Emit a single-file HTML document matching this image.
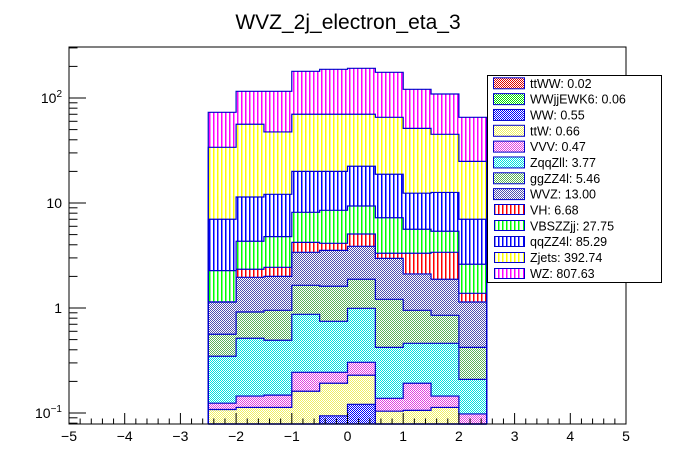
<!DOCTYPE html>
<html><head><meta charset="utf-8"><style>
body{margin:0;background:#fff;}
#wrap{position:relative;width:696px;height:472px;overflow:hidden;}
#c{position:absolute;left:0;top:0;z-index:2;}
#stripes{position:absolute;left:0;top:0;width:696px;height:472px;z-index:1;}
#legsw{position:absolute;left:0;top:0;width:696px;height:472px;z-index:3;}
.sb{position:absolute;box-sizing:border-box;}
svg{display:block;font-family:"Liberation Sans",Arial,sans-serif;}
</style></head><body>
<div id="wrap">
<div id="stripes"></div>
<svg id="c" width="696" height="472" viewBox="0 0 696 472">
<defs id="defs">
<pattern id="cWVZ" x="0" y="0" width="2" height="2" patternUnits="userSpaceOnUse"><rect width="2" height="2" fill="#fff"/><rect width="1" height="1" fill="#5050b0"/><rect x="1" y="1" width="1" height="1" fill="#5050b0"/></pattern>
<pattern id="cgg" x="0" y="0" width="2" height="2" patternUnits="userSpaceOnUse"><rect width="2" height="2" fill="#fff"/><rect width="1" height="1" fill="#5ab05a"/><rect x="1" y="1" width="1" height="1" fill="#5ab05a"/></pattern>
<pattern id="cZqq" x="0" y="0" width="2" height="2" patternUnits="userSpaceOnUse"><rect width="2" height="2" fill="#fff"/><rect width="1" height="1" fill="#00e0e0"/><rect x="1" y="1" width="1" height="1" fill="#00e0e0"/></pattern>
<pattern id="cVVV" x="0" y="0" width="2" height="2" patternUnits="userSpaceOnUse"><rect width="2" height="2" fill="#fff"/><rect width="1" height="1" fill="#e040e0"/><rect x="1" y="1" width="1" height="1" fill="#e040e0"/></pattern>
<pattern id="cttW" x="0" y="0" width="2" height="2" patternUnits="userSpaceOnUse"><rect width="2" height="2" fill="#fff"/><rect width="1" height="1" fill="#f0f060"/><rect x="1" y="1" width="1" height="1" fill="#f0f060"/></pattern>
<pattern id="cWW" x="0" y="0" width="2" height="2" patternUnits="userSpaceOnUse"><rect width="2" height="2" fill="#fff"/><rect width="1" height="1" fill="#0000ff"/><rect x="1" y="1" width="1" height="1" fill="#0000ff"/></pattern>
<pattern id="cWWjj" x="0" y="0" width="2" height="2" patternUnits="userSpaceOnUse"><rect width="2" height="2" fill="#fff"/><rect width="1" height="1" fill="#00e000"/><rect x="1" y="1" width="1" height="1" fill="#00e000"/></pattern>
<pattern id="cttWW" x="0" y="0" width="2" height="2" patternUnits="userSpaceOnUse"><rect width="2" height="2" fill="#fff"/><rect width="1" height="1" fill="#e00000"/><rect x="1" y="1" width="1" height="1" fill="#e00000"/></pattern>
</defs>
<text x="348" y="29" text-anchor="middle" font-size="21" fill="#000">WVZ_2j_electron_eta_3</text>
<g id="marks"></g>
<g id="axes"></g>
<g id="legend"></g>
</svg>
<div id="legsw"></div>
</div>
<script>
const binEdgesLow = [-2.5,-2,-1.5,-1,-0.5,0,0.5,1,1.5,2];
const binWidth = 0.5;
const processNames = ["ttWW","WWjjEWK6","WW","ttW","VVV","ZqqZll","ggZZ4l","WVZ","VH","VBSZZjj","qqZZ4l","Zjets","WZ"];
const legendLabels = ["ttWW: 0.02","WWjjEWK6: 0.06","WW: 0.55","ttW: 0.66","VVV: 0.47","ZqqZll: 3.77","ggZZ4l: 5.46","WVZ: 13.00","VH: 6.68","VBSZZjj: 27.75","qqZZ4l: 85.29","Zjets: 392.74","WZ: 807.63"];
const ttWW = [0.005,0.005,0.005,0.005,0.005,0.005,0.005,0.005,0.005,0.005];
const WWjjEWK6 = [0.005,0.005,0.005,0.005,0.005,0.005,0.005,0.005,0.005,0.005];
const WW = [0.03,0.03,0.03,0.03,0.084,0.111,0.03,0.03,0.03,0.02];
const ttW = [0.068,0.073,0.073,0.121,0.098,0.108,0.064,0.066,0.073,0.02];
const VVV = [0.016,0.032,0.035,0.083,0.052,0.075,0.034,0.086,0.032,0.048];
const ZqqZll = [0.223,0.370,0.345,0.627,0.503,0.689,0.284,0.269,0.316,0.111];
const ggZZ4l = [0.215,0.401,0.458,0.774,0.863,0.887,0.788,0.490,0.391,0.213];
const WVZ = [0.578,1.044,1.049,1.745,1.93,1.99,1.76,1.159,1.028,0.718];
const VH = [0.0,0.38,0.44,0.83,0.59,1.20,0.35,1.21,1.51,0.24];
const VBSZZjj = [1.13,1.98,2.34,3.93,4.39,4.29,3.92,2.30,1.99,1.23];
const qqZZ4l = [4.73,7.08,7.32,11.85,11.48,13.04,11.56,6.78,7.22,4.39];
const Zjets = [26.9,44.8,35.4,50.0,50.0,47.6,46.7,39.0,32.5,17.9];
const WZ = [39.2,59.6,68.3,109.6,117.6,121.8,110.2,69.6,64.1,40.6];
const xTicks = [-5,-4,-3,-2,-1,0,1,2,3,4,5];
const yDecades = [0.1,1,10,100];
const yDecadeLabels = ["10^-1","1","10","10^2"];

const series = [ttWW,WWjjEWK6,WW,ttW,VVV,ZqqZll,ggZZ4l,WVZ,VH,VBSZZjj,qqZZ4l,Zjets,WZ];
const fills = ["url(#cttWW)","url(#cWWjj)","url(#cWW)","url(#cttW)","url(#cVVV)","url(#cZqq)","url(#cgg)","url(#cWVZ)","s:rgb(255,0,0)","s:rgb(0,255,0)","s:rgb(0,0,255)","s:rgb(255,255,0)","s:rgb(255,0,255)"];
const outl = "#0000cc";

const X0=69, X1=626, Y0=424, Y1=47;
const xMin=-5, xMax=5;
const yRef=308, pxPerDec=105;
const yMin=Math.pow(10,(yRef-Y0)/pxPerDec);
function sx(v){return X0+(v-xMin)/(xMax-xMin)*(X1-X0);}
function sy(v){ if(v<=yMin) return Y0; return Math.min(Y0,Math.max(Y1,yRef-Math.log10(v)*pxPerDec)); }
const NS='http://www.w3.org/2000/svg';
function mk(tag,attrs,parent){const e=document.createElementNS(NS,tag);for(const k in attrs)e.setAttribute(k,attrs[k]);parent.appendChild(e);return e;}
const stripeLayer=document.getElementById('stripes');
const legSw=document.getElementById('legsw');

function stripeDiv(col,host,x0,x1,yT,yB,name){
  const d=document.createElement('div');
  d.className='sb';
  
  
  const L=Math.round(x0), R=Math.round(x1);
  d.style.left=L+'px'; d.style.top=yT+'px';
  d.style.width=(R-L)+'px'; d.style.height=(yB-yT)+'px';
  d.style.backgroundColor='#fff';
  d.style.backgroundImage='repeating-linear-gradient(90deg, #fff 0px, #fff 1px, '+col+' 1px, '+col+' 2.5px, #fff 2.5px, #fff 4px)';
  d.style.backgroundPosition=(-(L%4))+'px 0px';
  host.appendChild(d);
  return d;
}
function fillBox(fill,parent,host,x0,x1,yT,yB,name){
  if(yB-yT<=0) return;
  if(fill.startsWith('s:')) stripeDiv(fill.slice(2),host,x0,x1,yT,yB,name);
  else mk('rect',{x:x0,y:yT,width:x1-x0,height:yB-yT,fill:fill},parent);
}

const marks=document.getElementById('marks');
const cum=[]; let run=binEdgesLow.map(()=>0);
series.forEach(s=>{run=run.map((r,i)=>r+s[i]);cum.push(run.slice());});
for(let k=0;k<series.length;k++){
  const tops=cum[k];
  const g=mk('g',{},marks);
  
  
  binEdgesLow.forEach((lo,i)=>{
    const yT=sy(tops[i]);
    const yB=k===0?Y0:sy(cum[k-1][i]);
    fillBox(fills[k],g,stripeLayer,sx(lo),sx(lo+binWidth),yT,yB,'bar-'+processNames[k].toLowerCase());
  });
}
for(let k=series.length-1;k>=0;k--){
  const tops=cum[k];
  const xa=sx(binEdgesLow[0]), xb=sx(binEdgesLow[binEdgesLow.length-1]+binWidth);
  let d='M'+xa+','+Y0;
  binEdgesLow.forEach((lo,i)=>{const y=sy(tops[i]);d+=' L'+sx(lo)+','+y+' L'+sx(lo+binWidth)+','+y;});
  d+=' L'+xb+','+Y0;
  const p=mk('path',{d:d,fill:'none',stroke:outl,'stroke-width':1.2},marks);
  
  
}

const axes=document.getElementById('axes');
const frame=mk('rect',{x:X0,y:Y1,width:X1-X0,height:Y0-Y1,fill:'none',stroke:'#000','stroke-width':1},axes);


for(let v=xMin; v<=xMax+1e-9; v+=0.2){
  const major=Math.abs(v-Math.round(v))<1e-6;
  const x=sx(v);
  mk('line',{x1:x,y1:Y0,x2:x,y2:Y0-(major?11:5.5),stroke:'#000','stroke-width':1},axes);
}
xTicks.forEach(v=>{
  const t=mk('text',{x:sx(v),y:441,'text-anchor':'middle','font-size':14,fill:'#000'},axes);
  t.textContent=(v<0?'\u2212':'')+Math.abs(v);
  
  
});
for(let dec=-2; dec<=2; dec++){
  for(let m=1;m<=9;m++){
    const v=m*Math.pow(10,dec);
    if(v<yMin) continue;
    const y=yRef-Math.log10(v)*pxPerDec;
    if(y<Y1) continue;
    mk('line',{x1:X0,y1:y,x2:X0+(m===1?17:8.5),y2:y,stroke:'#000','stroke-width':1},axes);
  }
}
yDecades.forEach((v,i)=>{
  const y=sy(v);
  const lab=yDecadeLabels[i];
  const t=mk('text',{x:62,y:y+5,'text-anchor':'end','font-size':14,fill:'#000'},axes);
  if(lab.indexOf('^')>=0){
    const parts=lab.split('^');
    const a=mk('tspan',{},t); a.textContent=parts[0];
    const b=mk('tspan',{dy:-6,'font-size':10},t); b.textContent=parts[1].replace('-','\u2212');
  } else t.textContent=lab;
  
  
});

const leg=document.getElementById('legend');
const box=mk('rect',{x:487.5,y:75.5,width:174,height:207,fill:'#fff',stroke:'#000','stroke-width':1},leg);


legendLabels.forEach((lab,i)=>{
  const cy=83.3+i*15.83;
  const g=mk('g',{},leg);
  
  
  const x0=493.5,x1=524.5,y0=cy-5.5,y1=cy+5.5;
  fillBox(fills[i],g,legSw,x0,x1,y0,y1,'legend-swatch-'+processNames[i].toLowerCase());
  if(fills[i].startsWith('s:')){
    const sw=legSw.lastChild;
    sw.style.border='1px solid '+outl;
  } else {
    mk('rect',{x:x0,y:y0,width:x1-x0,height:y1-y0,fill:'none',stroke:outl,'stroke-width':1},g);
  }
  const t=mk('text',{x:530,y:cy+4.5,'font-size':12.5,fill:'#000'},g);
  t.textContent=lab;
});
</script>
</body></html>
